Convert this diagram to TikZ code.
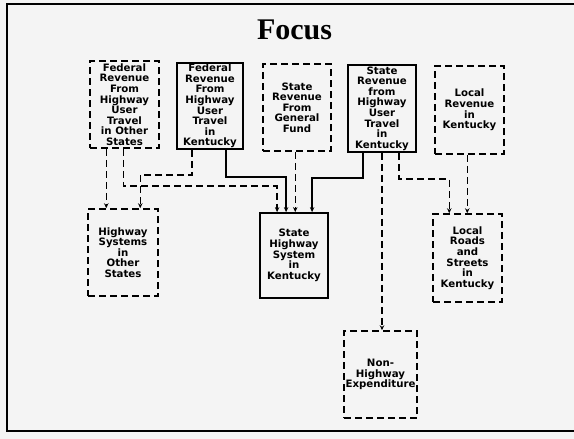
\documentclass[tikz,border=0pt]{standalone}
\usepackage{fontspec}
\setmainfont{DejaVu Sans}
\newfontfamily\titlefont{Liberation Serif}
\usetikzlibrary{arrows.meta}

\begin{document}
\begin{tikzpicture}[x=1pt, y=-1pt, thick,
  box/.style = {draw, line width=1.8pt, align=center, inner sep=0pt,
                font=\bfseries\fontsize{10.2}{10.6}\selectfont},
  dbox/.style = {box, line width=1.5pt, dash pattern=on 7pt off 4pt},
  sline/.style = {line width=1.8pt, -{Stealth[length=5pt,width=4.5pt]}},
  dline/.style = {line width=1.5pt, dash pattern=on 7pt off 4pt, -{Stealth[length=5pt,width=4.5pt]}}]
            \useasboundingbox (0,0) rectangle (574,439);
            \fill[gray!9] (0,0) rectangle (574,439);
            \draw[line width=1.2pt] (580,4) -- (7,4) -- (7,431) -- (580,431);
            \node (t) at (294.5,30) {\titlefont\bfseries\fontsize{30}{32}\selectfont Focus};
            % sources
            \node[dbox, minimum width=69pt, minimum height=87pt] (1) at (124.5,104.5)
                {Federal\\Revenue\\From\\Highway\\User\\Travel\\in Other\\States};
            \node[box, minimum width=66pt, minimum height=86pt] (2) at (210,106)
                {Federal\\Revenue\\From\\Highway\\User\\Travel\\in\\Kentucky};
            \node[dbox, minimum width=68pt, minimum height=87pt] (3) at (297,107.5)
                {State\\Revenue\\From\\General\\Fund};
            \node[box, minimum width=68pt, minimum height=87pt] (4) at (382,108.5)
                {State\\Revenue\\from\\Highway\\User\\Travel\\in\\Kentucky};
            \node[dbox, minimum width=69pt, minimum height=88pt] (5) at (469.5,110)
                {Local\\Revenue\\in\\Kentucky};
            % uses
            \node[dbox, minimum width=70pt, minimum height=87pt] (6) at (123,252.5)
                {Highway\\Systems\\in\\Other\\States};
            \node[box, minimum width=68pt, minimum height=85pt] (7) at (294,255.5)
                {State\\Highway\\System\\in\\Kentucky};
            \node[dbox, minimum width=69pt, minimum height=88pt] (8) at (467.5,258)
                {Local\\Roads\\and\\Streets\\in\\Kentucky};
            \node[dbox, minimum width=73pt, minimum height=87pt] (9) at (380.5,374.5)
                {Non-\\Highway\\Expenditure};
            % flows
            \draw[dline] ([xshift=17pt]1.south west) coordinate (a) -- (a |- 6.north);
            \draw[dline] ([xshift=34pt]1.south west) -- ++(0,37) -| ([xshift=18pt]7.north west);
            \draw[dline] ([xshift=16pt]2.south west) -- ++(0,25) -| ([xshift=53pt]6.north west);
            \draw[sline] ([xshift=50pt]2.south west) -- ++(0,27) -| ([xshift=27pt]7.north west);
            \draw[dline] ([xshift=33pt]3.south west) coordinate (e) -- (e |- 7.north);
            \draw[sline] ([xshift=16pt]4.south west) -- ++(0,25) -| ([xshift=53pt]7.north west);
            \draw[dline] (4.south) -- (4.south |- 9.north);
            \draw[dline] ([xshift=52pt]4.south west) -- ++(0,26) -| ([xshift=17pt]8.north west);
            \draw[dline] ([xshift=33pt]5.south west) coordinate (i) -- (i |- 8.north);
        \end{tikzpicture}
\end{document}
